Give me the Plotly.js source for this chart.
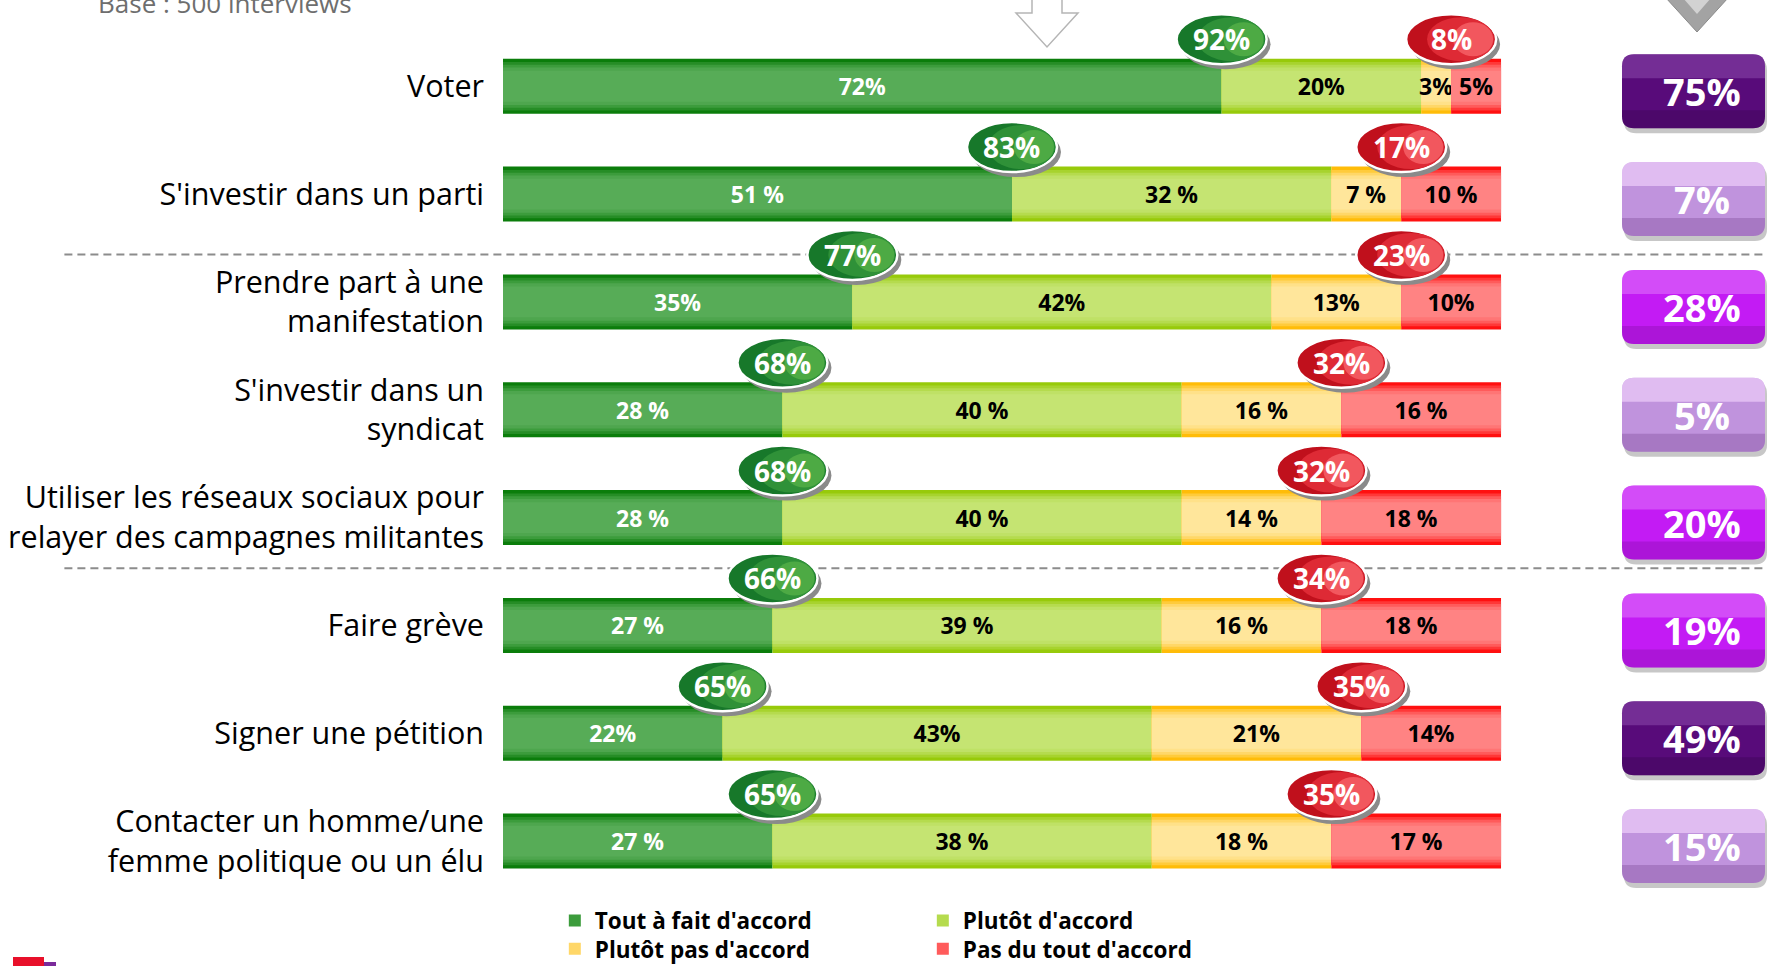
<!DOCTYPE html>
<html><head><meta charset="utf-8">
<script src="https://cdn.plot.ly/plotly-3.0.1.min.js"></script>
<style>html,body{margin:0;padding:0;background:#fff;} #chart{width:1767px;height:966px;}</style>
</head><body><div id="chart"></div>
<script>
// ---------- DATA ----------
const categories = [
  "Voter",
  "S'investir dans un parti",
  "Prendre part à une<br>manifestation",
  "S'investir dans un<br>syndicat",
  "Utiliser les réseaux sociaux pour<br>relayer des campagnes militantes",
  "Faire grève",
  "Signer une pétition",
  "Contacter un homme/une<br>femme politique ou un élu"
];
const seriesNames = ["Tout à fait d'accord", "Plutôt d'accord", "Plutôt pas d'accord", "Pas du tout d'accord"];
const toutAFait  = [72, 51, 35, 28, 28, 27, 22, 27];
const plutot     = [20, 32, 42, 40, 40, 39, 43, 38];
const plutotPas  = [3, 7, 13, 16, 14, 16, 21, 18];
const pasDuTout  = [5, 10, 10, 16, 18, 18, 14, 17];
const totalAccord    = [92, 83, 77, 68, 68, 66, 65, 65];
const totalDesaccord = [8, 17, 23, 32, 32, 34, 35, 35];
const rightValues    = [75, 7, 28, 5, 20, 19, 49, 15];
const labelWithSpace = [false, true, false, true, true, true, false, true];
const rightBoxStyle  = ["dark", "light", "bright", "light", "bright", "bright", "dark", "light"];
const baseNote = "Base : 500 interviews";

// ---------- STYLE ----------
const FONT = "Open Sans, Noto Sans, DejaVu Sans, sans-serif";
const palettes = [
  {edge: "#0B7D0B", center: "#57AC57", text: "#FFFFFF"},
  {edge: "#97CA0A", center: "#C5E472", text: "#000000"},
  {edge: "#FFBC08", center: "#FFE69B", text: "#000000"},
  {edge: "#FF1010", center: "#FF8383", text: "#000000"}
];
const layerSteps = [{f: 1, t: 0}, {f: 0.88, t: 0.35}, {f: 0.78, t: 0.65}, {f: 0.68, t: 0.88}, {f: 0.56, t: 1}];
const BAR_W = 0.51;

function hexToRgb(h) { h = h.replace('#', ''); return [0, 2, 4].map(i => parseInt(h.substr(i, 2), 16)); }
function mix(a, b, t) {
  const A = hexToRgb(a), B = hexToRgb(b);
  return 'rgb(' + A.map((v, i) => Math.round(v + (B[i] - v) * t)).join(',') + ')';
}

const seriesValues = [toutAFait, plutot, plutotPas, pasDuTout];
const traces = [];
const cum = categories.map(() => 0);
const ends = [];
seriesValues.forEach((vals, s) => {
  const base = cum.slice();
  layerSteps.forEach((ls, li) => {
    const isLast = li === layerSteps.length - 1;
    const tr = {
      type: 'bar', orientation: 'h', y: categories, x: vals, base: base,
      width: BAR_W * ls.f,
      marker: {color: mix(palettes[s].edge, palettes[s].center, ls.t), line: {width: 0}},
      name: seriesNames[s],
      showlegend: li === 2,
      legend: s < 2 ? 'legend' : 'legend2',
      hoverinfo: 'skip'
    };
    if (isLast) {
      tr.text = vals.map((v, i) => v + (labelWithSpace[i] ? ' %' : '%'));
      tr.textposition = 'inside';
      tr.insidetextanchor = 'middle';
      tr.textangle = 0;
      tr.constraintext = 'none';
      tr.textfont = {family: FONT, size: 23, weight: 700, color: palettes[s].text};
    }
    traces.push(tr);
  });
  vals.forEach((v, i) => cum[i] += v);
  ends.push(cum.slice());
});

const shapes = [];
const annotations = [];

// dashed separators
[1.56, 4.47].forEach(yv => shapes.push({
  type: 'line', xref: 'paper', yref: 'y', x0: -0.347, x1: 1, y0: yv, y1: yv,
  line: {color: '#8c8c8c', width: 2, dash: '8px,5px'}, layer: 'above'
}));

// bubbles
const BUB_UP = 47, BUB_RX = 45, BUB_RY = 25;
function bubble(cx, row, dark, mid, light, label) {
  const common = {type: 'circle', xref: 'x', yref: 'y', xsizemode: 'pixel', ysizemode: 'pixel', xanchor: cx, yanchor: row, layer: 'above'};
  shapes.push(Object.assign({}, common, {x0: -BUB_RX + 4, x1: BUB_RX + 4, y0: BUB_UP - BUB_RY - 5, y1: BUB_UP + BUB_RY - 5, fillcolor: '#8a8a8a', line: {width: 0}}));
  shapes.push(Object.assign({}, common, {x0: -BUB_RX, x1: BUB_RX, y0: BUB_UP - BUB_RY, y1: BUB_UP + BUB_RY, fillcolor: dark, line: {color: '#ffffff', width: 2.5}}));
  shapes.push(Object.assign({}, common, {x0: -24, x1: BUB_RX - 2, y0: BUB_UP - BUB_RY + 3, y1: BUB_UP + BUB_RY - 3, fillcolor: mid, line: {width: 0}}));
  shapes.push(Object.assign({}, common, {x0: 2, x1: BUB_RX - 3, y0: BUB_UP - BUB_RY + 8, y1: BUB_UP + BUB_RY - 8, fillcolor: light, line: {width: 0}}));
  annotations.push({x: cx, y: row, xref: 'x', yref: 'y', yshift: BUB_UP, text: label, showarrow: false,
    font: {family: FONT, size: 28, weight: 700, color: '#ffffff'}});
}
categories.forEach((c, i) => {
  bubble(ends[0][i], i, '#17782A', '#2F9138', '#4DAA44', totalAccord[i] + '%');
  bubble(ends[2][i], i, '#C0101C', '#DE2A35', '#F2575E', totalDesaccord[i] + '%');
});

// right boxes
function rr(x0, x1, yT, yB, rT, rB) {
  return `M ${x0 + rT},${yT} L ${x1 - rT},${yT} Q ${x1},${yT} ${x1},${yT - rT} L ${x1},${yB + rB} Q ${x1},${yB} ${x1 - rB},${yB} L ${x0 + rB},${yB} Q ${x0},${yB} ${x0},${yB + rB} L ${x0},${yT - rT} Q ${x0},${yT} ${x0 + rT},${yT} Z`;
}
const boxColors = {
  dark:   {main: '#580B7A', top: 'rgba(170,110,200,0.35)', bot: 'rgba(40,0,60,0.25)'},
  bright: {main: '#C31BF4', top: 'rgba(240,170,255,0.35)', bot: 'rgba(90,0,120,0.22)'},
  light:  {main: '#C093DD', top: 'rgba(245,215,255,0.6)', bot: 'rgba(90,40,120,0.25)'}
};
const BX0 = -145, BX1 = -2, BT = 32, BB = -42;
categories.forEach((c, i) => {
  const col = boxColors[rightBoxStyle[i]];
  const common = {type: 'path', xref: 'paper', yref: 'y', xsizemode: 'pixel', ysizemode: 'pixel', xanchor: 1, yanchor: i, layer: 'above', line: {width: 0}};
  shapes.push(Object.assign({}, common, {path: rr(BX0 + 2, BX1 + 2, BT - 4, BB - 5, 12, 12), fillcolor: 'rgba(0,0,0,0.22)'}));
  shapes.push(Object.assign({}, common, {path: rr(BX0, BX1, BT, BB, 12, 12), fillcolor: col.main}));
  shapes.push(Object.assign({}, common, {path: rr(BX0, BX1, BT, BT - 24, 12, 0), fillcolor: col.top}));
  shapes.push(Object.assign({}, common, {path: rr(BX0, BX1, BB + 18, BB, 0, 12), fillcolor: col.bot}));
  annotations.push({x: 1, y: i, xref: 'paper', yref: 'y', xanchor: 'center', yanchor: 'middle', xshift: -65, yshift: -5,
    text: rightValues[i] + '%', showarrow: false,
    font: {family: FONT, size: 38, weight: 700, color: '#ffffff'}});
});

// top arrows (decor)
const A1 = (1047 - 503) / 1264, A2 = (1697 - 503) / 1264;
shapes.push({type: 'path', xref: 'paper', yref: 'paper', xsizemode: 'pixel', ysizemode: 'pixel', xanchor: A1, yanchor: 1,
  path: 'M -15,4 L 15,4 L 15,-13 L 31,-13 L 0,-47 L -31,-13 L -15,-13 Z', fillcolor: '#ffffff', line: {color: '#b5b5b5', width: 1.5}});
shapes.push({type: 'path', xref: 'paper', yref: 'paper', xsizemode: 'pixel', ysizemode: 'pixel', xanchor: A2, yanchor: 1,
  path: 'M -31,2 L 31,2 L 0,-32 Z', fillcolor: '#a3a3a3', line: {color: '#8a8a8a', width: 1}});
shapes.push({type: 'path', xref: 'paper', yref: 'paper', xsizemode: 'pixel', ysizemode: 'pixel', xanchor: A2, yanchor: 1,
  path: 'M -14,2 L 14,2 L 0,-14 Z', fillcolor: '#d2d2d2', line: {width: 0}});
// logo remnant bottom-left
const PX0 = -503 / 1264;
shapes.push({type: 'rect', xref: 'paper', yref: 'paper', xsizemode: 'pixel', ysizemode: 'pixel', xanchor: PX0, yanchor: 0,
  x0: 13, x1: 44, y0: -62, y1: -75, fillcolor: '#E8102A', line: {width: 0}});
shapes.push({type: 'rect', xref: 'paper', yref: 'paper', xsizemode: 'pixel', ysizemode: 'pixel', xanchor: PX0, yanchor: 0,
  x0: 44, x1: 56, y0: -67, y1: -75, fillcolor: '#7A2A9A', line: {width: 0}});

annotations.push({x: (96 - 503) / 1264, y: 1, xref: 'paper', yref: 'paper', xanchor: 'left', yanchor: 'middle', yshift: -3,
  text: baseNote, showarrow: false, font: {family: FONT, size: 26, color: '#6e6e6e'}});

const legendCommon = {orientation: 'h', xanchor: 'left', yanchor: 'middle', x: 0.041,
  font: {family: FONT, size: 22.5, weight: 700, color: '#000'}, entrywidth: 323, entrywidthmode: 'pixels',
  bgcolor: 'rgba(0,0,0,0)', traceorder: 'normal', itemclick: false, itemdoubleclick: false};

const layout = {
  width: 1767, height: 966,
  margin: {l: 503, r: 0, t: 0, b: 71, pad: 0, autoexpand: false},
  paper_bgcolor: '#ffffff', plot_bgcolor: '#ffffff',
  barmode: 'overlay',
  showlegend: true,
  xaxis: {range: [0, 126.65], visible: false, fixedrange: true},
  yaxis: {type: 'category', categoryorder: 'array', categoryarray: categories, range: [7.5, -0.8],
    showgrid: false, zeroline: false, showline: false, ticks: '', ticklabelstandoff: 18,
    tickfont: {family: FONT, size: 30.5, color: '#000'}, fixedrange: true},
  legend: Object.assign({}, legendCommon, {y: -0.029}),
  legend2: Object.assign({}, legendCommon, {y: -0.0605}),
  shapes: shapes,
  annotations: annotations,
  font: {family: FONT}
};

Plotly.newPlot('chart', traces, layout, {displayModeBar: false, staticPlot: true});
</script></body></html>
